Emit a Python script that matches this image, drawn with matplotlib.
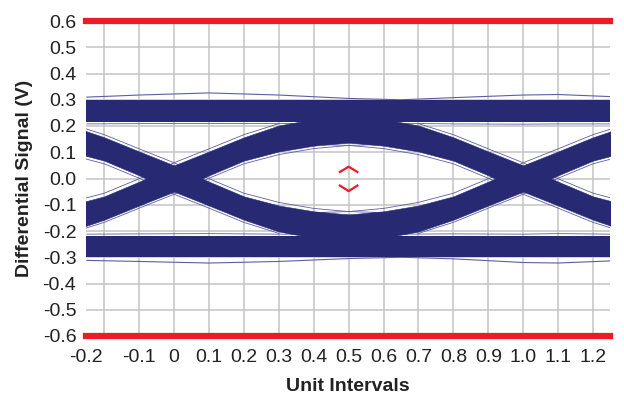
import matplotlib
matplotlib.use("Agg")
import matplotlib.pyplot as plt
import numpy as np

plt.rcParams['font.family'] = ['Liberation Sans', 'DejaVu Sans']

# axis ticks / labels
ui_grid = [-0.2, -0.1, 0.0, 0.1, 0.2, 0.3, 0.4, 0.5, 0.6, 0.7, 0.8, 0.9, 1.0, 1.1, 1.2]
x_tick_labels = ["-0.2", "-0.1", "0", "0.1", "0.2", "0.3", "0.4", "0.5", "0.6",
                 "0.7", "0.8", "0.9", "1.0", "1.1", "1.2"]
v_grid = [-0.6, -0.5, -0.4, -0.3, -0.2, -0.1, 0.0, 0.1, 0.2, 0.3, 0.4, 0.5, 0.6]
y_tick_labels = ["-0.6", "-0.5", "-0.4", "-0.3", "-0.2", "-0.1", "0.0",
                 "0.1", "0.2", "0.3", "0.4", "0.5", "0.6"]

# eye crossings (UI) and settled levels (V)
crossings = [0.0, 1.0]
high_band = (0.215, 0.300)
low_band = (-0.300, -0.220)
mask_limit = 0.6

# rising edge envelope, relative to the crossing (UI) -> volts
edge_r = [-0.6, -0.5, -0.4, -0.3, -0.2, -0.1, 0.0, 0.1, 0.2, 0.3, 0.4, 0.5, 0.6]
edge_hi = [-0.140, -0.137, -0.125, -0.103, -0.068, -0.012, 0.050, 0.103, 0.157, 0.202, 0.226, 0.240, 0.250]
edge_lo = [-0.250, -0.240, -0.226, -0.202, -0.157, -0.103, -0.050, 0.012, 0.068, 0.103, 0.125, 0.137, 0.140]

# stray thin traces next to the rising edge
thin_r = [-0.6, -0.5, -0.4, -0.3, -0.2, -0.1, 0.0, 0.1, 0.2, 0.3]
thin_hi = [-0.130, -0.126, -0.114, -0.091, -0.056, -0.001, 0.060, 0.113, 0.167, 0.209]
thin_r2 = [-0.3, -0.2, -0.1, 0.0, 0.1, 0.2, 0.3, 0.4, 0.5, 0.6]
thin_lo = [-0.209, -0.167, -0.113, -0.060, 0.001, 0.056, 0.091, 0.114, 0.126, 0.130]

# outer thin traces above / below the settled bands
outer_x = [-0.25, -0.1, 0.1, 0.3, 0.5, 0.65, 0.8, 1.0, 1.1, 1.25]
outer_top = [0.310, 0.318, 0.326, 0.318, 0.305, 0.300, 0.308, 0.318, 0.320, 0.312]
outer_bot = [-0.312, -0.316, -0.322, -0.316, -0.305, -0.300, -0.306, -0.320, -0.322, -0.314]
inner_top = [0.208, 0.209, 0.210, 0.209, 0.212, 0.210, 0.208, 0.207, 0.208, 0.208]
inner_bot = [-0.212, -0.211, -0.210, -0.212, -0.214, -0.212, -0.211, -0.212, -0.210, -0.212]

# eye mask markers at the centre of the eye
mask_x = [0.475, 0.5, 0.525]
mask_up = [0.025, 0.045, 0.025]
mask_dn = [-0.027, -0.048, -0.027]

navy = '#272A73'
thin = '#5a5fa3'
red = '#ED1C24'

fig = plt.figure(figsize=(6.24, 4.0), dpi=100)
ax = fig.add_axes([0.1378, 0.16, 0.8398, 0.7875])

for gx in ui_grid:
    ax.axvline(gx, color='#c4c4c4', lw=1.1, zorder=0)
for gy in v_grid:
    ax.axhline(gy, color='#c4c4c4', lw=1.1, zorder=0)

x_min, x_max = -0.2524, 1.2487

# settled bands
ax.fill_between([x_min, x_max], high_band[0], high_band[1], color=navy, lw=0, zorder=2)
ax.fill_between([x_min, x_max], low_band[0], low_band[1], color=navy, lw=0, zorder=2)

# transitions
er = np.array(edge_r)
hi = np.array(edge_hi)
lo = np.array(edge_lo)
for c in crossings:
    ax.fill_between(c + er, lo, hi, color=navy, lw=0.4, edgecolor=navy, zorder=2)
    ax.fill_between(c + er, -hi, -lo, color=navy, lw=0.4, edgecolor=navy, zorder=2)
    ax.plot(c + np.array(thin_r), thin_hi, color=thin, lw=0.6, zorder=1)
    ax.plot(c + np.array(thin_r), -np.array(thin_hi), color=thin, lw=0.6, zorder=1)
    ax.plot(c + np.array(thin_r2), thin_lo, color=thin, lw=0.6, zorder=1)
    ax.plot(c + np.array(thin_r2), -np.array(thin_lo), color=thin, lw=0.6, zorder=1)

ax.plot(outer_x, outer_top, color=thin, lw=0.8, zorder=1)
ax.plot(outer_x, outer_bot, color=thin, lw=0.8, zorder=1)
ax.plot(outer_x, inner_top, color=thin, lw=0.6, zorder=1)
ax.plot(outer_x, inner_bot, color=thin, lw=0.6, zorder=1)

# mask limits and markers
ax.plot([x_min, x_max], [mask_limit, mask_limit], color=red, lw=4.5, clip_on=False, zorder=5)
ax.plot([x_min, x_max], [-mask_limit, -mask_limit], color=red, lw=4.5, clip_on=False, zorder=5)
ax.plot(mask_x, mask_up, color=red, lw=1.6, zorder=5)
ax.plot(mask_x, mask_dn, color=red, lw=1.6, zorder=5)

ax.set_xlim(x_min, x_max)
ax.set_ylim(-mask_limit, mask_limit)

# first label sits at the left edge of the plot in the original
ax.set_xticks([x_min] + ui_grid[1:])
ax.set_xticklabels(x_tick_labels)
ax.set_yticks(v_grid)
ax.set_yticklabels(y_tick_labels)
ax.tick_params(length=0, labelsize=14, colors='#222222')
ax.tick_params(axis='y', pad=7)
ax.tick_params(axis='x', pad=9)
for s in ax.spines.values():
    s.set_visible(False)

ax.set_xlabel('Unit Intervals', fontsize=14, fontweight='bold', labelpad=9, color='#222222')
ax.set_ylabel('Differential Signal (V)', fontsize=14, fontweight='bold', labelpad=7, color='#222222')

fig.savefig('out.png', dpi=100)
